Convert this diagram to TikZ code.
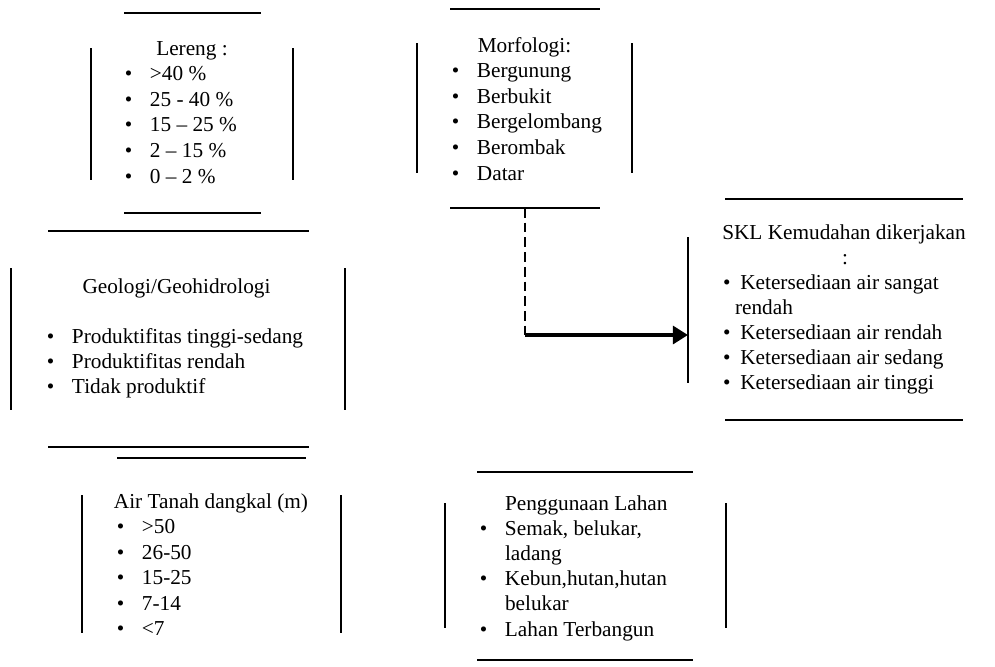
\documentclass[tikz,border=0pt]{standalone}
\usepackage{fontspec}
\setmainfont{Liberation Serif}
\usepackage{tikz}
\usetikzlibrary{arrows.meta, positioning, calc}

\newcommand{\bul}[1][10pt]{\llap{\textbullet\hspace{#1}}}

\begin{document}
\begin{tikzpicture}[x=0.564pt,y=-0.564pt,every node/.style={inner sep=0pt,outer sep=0pt,font=\fontsize{12}{14}\selectfont}]
\tikzstyle{frame}=[line width=1.4pt]
\tikzstyle{side}=[line width=1.2pt]
\tikzstyle{title}=[anchor=base]
\tikzstyle{item}=[anchor=base west]
\tikzstyle{dashline}=[line width=1.1pt,dash pattern=on 5.5pt off 2.8pt]
\tikzstyle{flow}=[line width=2.8pt,-{Triangle[length=8.5pt,width=10pt]}]

\useasboundingbox (0,0) rectangle (995,666);

% Lereng
\draw [frame] (124,13) -- (261,13) (124,213) -- (261,213);
\draw [side] (91,48) -- (91,180) (293,48) -- (293,180);
\node (lereng) [title] at (192,55) {Lereng :};
\foreach \t [count=\i] in {{\bul >40 \%},{\bul 25 - 40 \%},{\bul 15 – 25 \%},{\bul 2 – 15 \%},{\bul 0 – 2 \%}}
  \node (lereng-\i) [item] at (150,55+25.6*\i) {\t};

% Morfologi
\draw [frame] (450,9) -- (600,9) (450,208) -- (600,208);
\draw [side] (417,43) -- (417,173) (632,43) -- (632,173);
\node (morf) [title] at (524.5,52) {Morfologi:};
\foreach \t [count=\i] in {{\bul Bergunung},{\bul Berbukit},{\bul Bergelombang},{\bul Berombak},{\bul Datar}}
  \node (morf-\i) [item] at (477,52+25.6*\i) {\t};

% Geologi
\draw [frame] (48,231) -- (309,231) (48,447) -- (309,447);
\draw [side] (11,268) -- (11,410) (345,268) -- (345,410);
\node (geo) [title] at (176.5,293) {Geologi/Geohidrologi};
\foreach \t [count=\i] in {{\bul Produktifitas tinggi-sedang},{\bul Produktifitas rendah},{\bul Tidak produktif}}
  \node (geo-\i) [item] at (72,318+25*\i) {\t};

% Air tanah
\draw [frame] (117,458) -- (306,458);
\draw [side] (82,495) -- (82,633) (341,495) -- (341,633);
\node (air) [title] at (211,508) {Air Tanah dangkal (m)};
\foreach \t [count=\i] in {{\bul >50},{\bul 26-50},{\bul 15-25},{\bul 7-14},{\bul <7}}
  \node (air-\i) [item] at (142,508+25.5*\i) {\t};

% Penggunaan lahan
\draw [frame] (477,472) -- (693,472) (477,660) -- (693,660);
\draw [side] (445,503) -- (445,628) (726,503) -- (726,628);
\node (lahan) [item] at (505,510) {Penggunaan Lahan};
\foreach \t [count=\i] in {{\bul Semak, belukar,},{ladang},{\bul Kebun,hutan,hutan},{belukar},{\bul Lahan Terbangun}}
  \node (lahan-\i) [item] at (505,510+25.2*\i) {\t};

% SKL
\draw [frame] (725,199) -- (963,199) (725,420) -- (963,420);
\draw [side] (688,237) -- (688,383);
\node (skl) [title] at (844,239) {SKL Kemudahan dikerjakan};
\node (skl-colon) [title] at (845,264) {:};
\foreach \t [count=\i] in {{\bul[2.5pt] Ketersediaan air sangat},{rendah},{\bul[2.5pt] Ketersediaan air rendah},{\bul[2.5pt] Ketersediaan air sedang},{\bul[2.5pt] Ketersediaan air tinggi}}
  \node (skl-\i) [item] at (735,264+25*\i) {\t};

% connector
\coordinate (morf-out) at (525,208);
\coordinate (skl-in) at (688,335);
\coordinate (bend) at (morf-out |- skl-in);
\draw [dashline] (morf-out) -- (bend);
\draw [flow] (bend) -- (skl-in);
\end{tikzpicture}
\end{document}
